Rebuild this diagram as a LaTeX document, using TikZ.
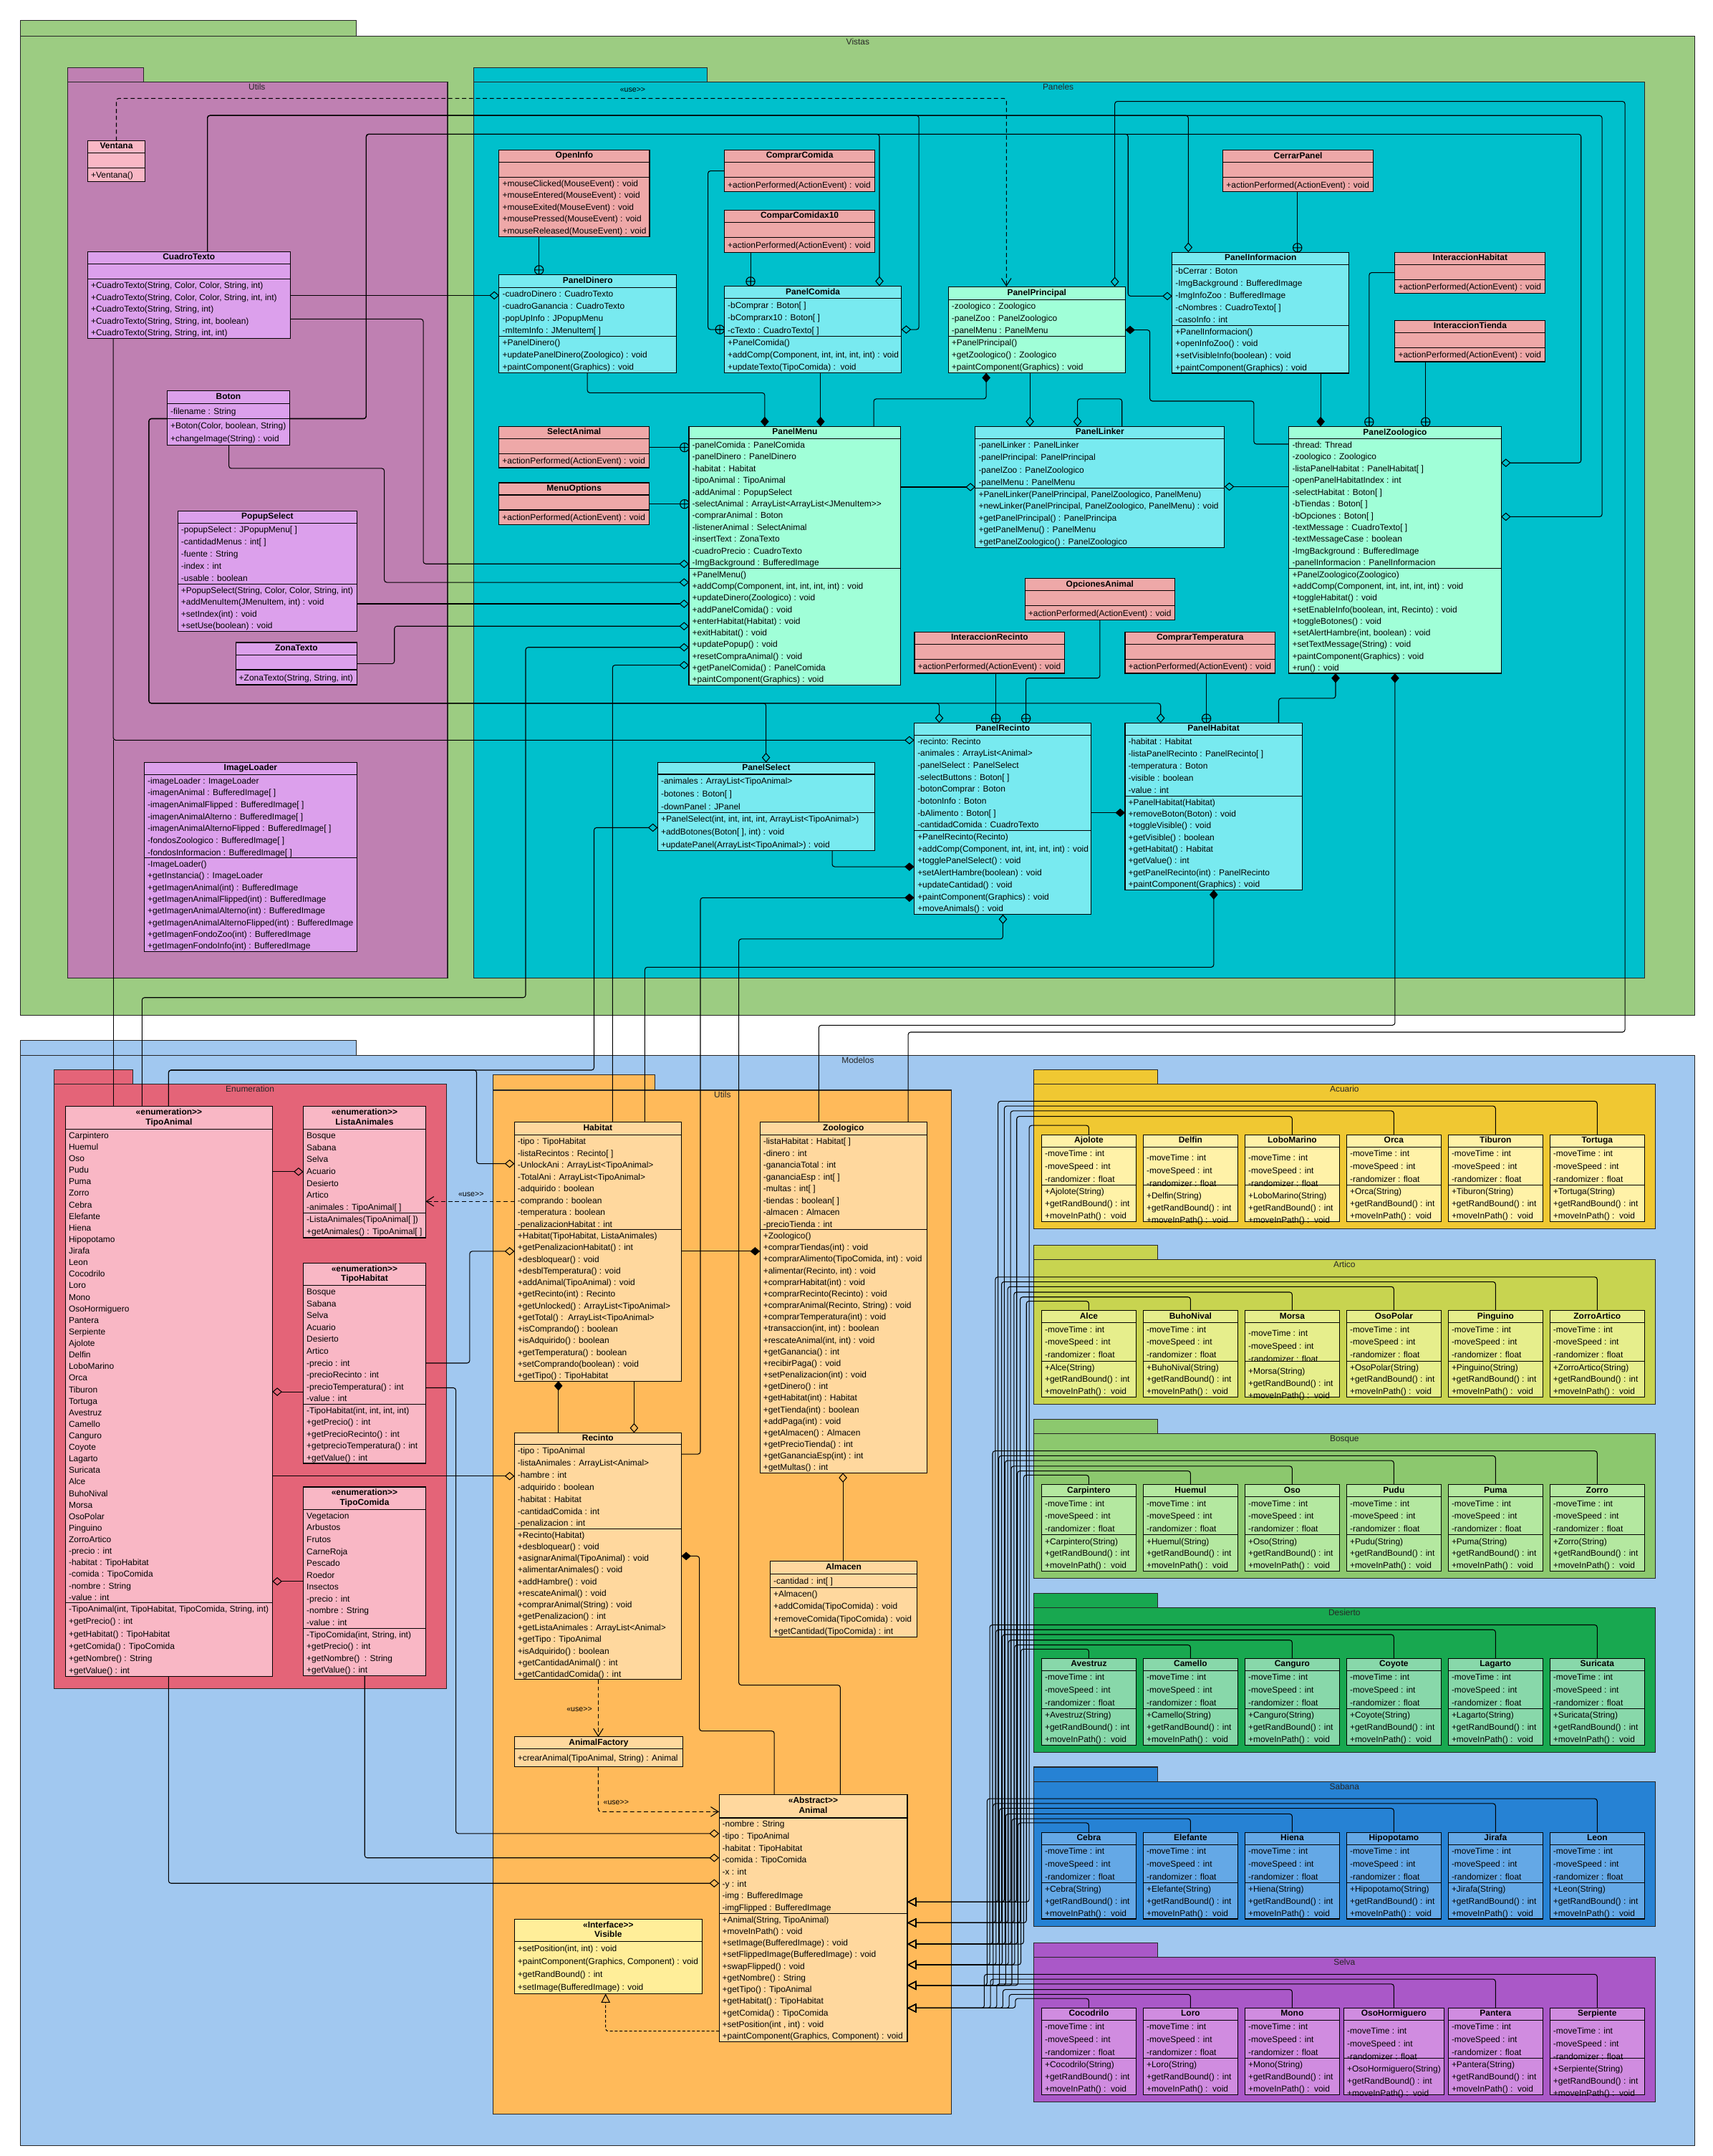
\documentclass[tikz,border=0pt]{standalone}
\usepackage{fontspec}
\setmainfont{Liberation Sans}
\usetikzlibrary{arrows.meta}
\pgfdeclarelayer{pk}\pgfdeclarelayer{ln}\pgfsetlayers{pk,ln,main}
\definecolor{cVistas}{RGB}{156,204,130}
\definecolor{cUtilsV}{RGB}{191,128,178}
\definecolor{cLilac}{RGB}{220,160,236}
\definecolor{cPink}{RGB}{249,183,197}
\definecolor{cPaneles}{RGB}{0,192,204}
\definecolor{cSalmon}{RGB}{238,168,168}
\definecolor{cCyanL}{RGB}{120,234,240}
\definecolor{cMint}{RGB}{160,255,216}
\definecolor{cModelos}{RGB}{161,200,240}
\definecolor{cEnum}{RGB}{228,100,120}
\definecolor{cOrange}{RGB}{255,186,90}
\definecolor{cPeach}{RGB}{255,216,158}
\definecolor{cYel}{RGB}{255,238,153}
\definecolor{pAcu}{RGB}{240,200,50}\definecolor{bAcu}{RGB}{255,242,168}
\definecolor{pArt}{RGB}{200,212,80}\definecolor{bArt}{RGB}{230,238,140}
\definecolor{pBos}{RGB}{140,200,110}\definecolor{bBos}{RGB}{180,232,160}
\definecolor{pDes}{RGB}{24,168,80}\definecolor{bDes}{RGB}{136,216,170}
\definecolor{pSab}{RGB}{38,130,212}\definecolor{bSab}{RGB}{100,168,230}
\definecolor{pSel}{RGB}{170,88,200}\definecolor{bSel}{RGB}{208,140,224}
\tikzset{
  cls/.style={draw=black,line width=0.55pt,anchor=north west,inner sep=0pt,outer sep=0pt},
  divl/.style={draw=black,line width=0.55pt},
  hdr/.style={font=\bfseries\fontsize{6.2pt}{7pt}\selectfont,inner sep=0pt,text height=4.5pt,text depth=1.3pt,anchor=center},
  txt/.style={anchor=north west,inner sep=0pt,align=left},
  pkg/.style={draw=black!85,line width=0.55pt},
  lbl/.style={font=\fontsize{6.2pt}{7pt}\selectfont,inner sep=0pt,anchor=north,text=black!85},
  con/.style={draw=black,line width=0.55pt,rounded corners=1.8pt},
  agg/.style={-{Diamond[open,length=7pt,width=6pt]}},
  comp/.style={-{Diamond[length=7pt,width=6pt]}},
  dep/.style={dash pattern=on 3pt off 2pt,-{Straight Barb[length=5.5pt,width=7pt]}},
  gen/.style={-{Triangle[open,length=6.5pt,width=6.5pt]}},
  real/.style={dash pattern=on 2pt off 1.5pt,-{Triangle[open,length=6.5pt,width=6.5pt]}},
  usel/.style={font=\fontsize{5.5pt}{6pt}\selectfont,inner sep=0pt},
}
\newcommand\UC[8]{%
  \node[cls,fill=#2,minimum width={#4pt-#3pt},minimum height={#8pt-#5pt}] (#1) at (#3,#5) {};
  \draw[divl] (#3,#6) -- (#4,#6);
  \if\relax\detokenize{#7}\relax\else\draw[divl] (#3,#7) -- (#4,#7);\fi
}
\newcommand\HD[5]{\node[hdr] at ({(#1+#2)/2},{(#3+#4)/2}) {#5};}
\newcommand\HDD[6]{%
  \node[hdr] at ({(#1+#2)/2},{#3+0.28*(#4-#3)}) {#5};
  \node[hdr] at ({(#1+#2)/2},{#3+0.70*(#4-#3)}) {#6};}
\newcommand\TX[5]{%
  \pgfmathsetmacro\rs{((#3)-(#2))/(#4)}%
  \pgfmathsetmacro\ty{(#2)+2.2-0.2*\rs}%
  \node[txt,font=\fontsize{6.2pt}{\rs pt}\selectfont] at ({#1+2.2},\ty) {\strut #5};%
}
\newcommand\PC[2]{\draw[line width=0.55pt] (#1,#2) circle (3.2pt) (#1-3.2,#2) -- (#1+3.2,#2) (#1,#2-3.2) -- (#1,#2+3.2);}
\newcommand\AL{+actionPerformed(ActionEvent) : void}
% boxes whose texts sit lower, and the wider box
\def\shDelfin{}\def\shLoboMarino{}\def\shMorsa{}\def\shOsoHormiguero{}\def\shSerpiente{}
\def\wdOsoHormiguero{}
\newcommand\ANI[8]{%
  \pgfmathsetmacro\Ttab{#1-10.4}%
  \pgfmathsetmacro\Tbot{#1+104.8}%
  \begin{pgfonlayer}{pk}
  \draw[pkg,fill=#2] (748.3,\Ttab) rectangle (838.2,#1);
  \draw[pkg,fill=#2] (748.3,#1) rectangle (1198.2,\Tbot);
  \end{pgfonlayer}
  \node[lbl] (l#4) at (973.2,#1+1) {#4};
  \foreach \nm [count=\k from 0] in {#5} {
    \pgfmathsetmacro\xl{754+73.6*\k}
    \def\bw{68.4}
    \ifcsname wd\nm\endcsname \pgfmathsetmacro\xl{\xl-2}\def\bw{72.4}\fi
    \ifcsname sh\nm\endcsname \def\sh{3}\else\def\sh{0}\fi
    \node[cls,fill=#3,minimum width=\bw pt,minimum height=62.7pt] (c\nm) at (\xl,#1+36.8) {};
    \draw[divl] (\xl,#1+45.6) -- ++(\bw,0) (\xl,#1+73.3) -- ++(\bw,0);
    \node[hdr] at ({\xl+\bw/2},{#1+41.2}) {\nm};
    \TX{\xl}{#1+45.6+\sh}{#1+73.3+\sh}{3}{-moveTime : int\\-moveSpeed : int\\-randomizer : float}
    \TX{\xl}{#1+73.3+\sh}{#1+99.5+\sh}{3}{+\nm(String)\\+getRandBound() : int\\+moveInPath() :\ \ void}
  }
  \begin{pgfonlayer}{ln}
  \foreach \k in {#8} {
    \pgfmathsetmacro\xc{754+73.6*\k+34.2}
    \pgfmathsetmacro\yl{#1+{30,27,23.5,19.5,16,12.5}[\k]}
    \pgfmathsetmacro\xv{745-4.5*\k-2*#7}
    \draw[con,gen] (\xc,#1+36.8) |- (\xv,\yl) |- (Animal.east |- 0,#6);
  }
  \end{pgfonlayer}
}
\begin{document}
\begin{tikzpicture}[x=1pt,y=-1pt]
\useasboundingbox (0,0) rectangle (1240,1560.4);
\begin{pgfonlayer}{pk}
\fill[white] (0,0) rectangle (1240,1560.4);
\draw[pkg,fill=cVistas] (15,15) rectangle (258,26);
\draw[pkg,fill=cVistas] (15,26) rectangle (1227,735);
\draw[pkg,fill=cUtilsV] (49,49) rectangle (104,59.2);
\draw[pkg,fill=cUtilsV] (49,59.2) rectangle (324,708);
\draw[pkg,fill=cPaneles] (343,48.9) rectangle (512,59.3);
\draw[pkg,fill=cPaneles] (343,59.3) rectangle (1190.5,708);
\draw[pkg,fill=cModelos] (15,753) rectangle (258,764);
\draw[pkg,fill=cModelos] (15,764) rectangle (1227,1553);
\draw[pkg,fill=cEnum] (39,774) rectangle (96,784.7);
\draw[pkg,fill=cEnum] (39,784.7) rectangle (323,1222);
\draw[pkg,fill=cOrange] (357,778) rectangle (474,789);
\draw[pkg,fill=cOrange] (357,789) rectangle (688.8,1530);
\end{pgfonlayer}
\node[lbl] (lVistas) at (621,27.5) {Vistas};
\node[lbl] (lUtilsV) at (186,60.2) {Utils};
\node[lbl] (lPaneles) at (766,60.3) {Paneles};
\node[lbl] (lModelos) at (621,765) {Modelos};
\node[lbl] (lEnum) at (181,785.7) {Enumeration};
\node[lbl] (lUtilsM) at (523,790) {Utils};
% ---------- Vistas / Utils
\UC{Ventana}{cPink}{63.5}{105}{101.8}{110.5}{121.7}{131.4}
\HD{63.5}{105}{101.8}{110.5}{Ventana}
\TX{63.5}{121.7}{131.4}{1}{+Ventana()}
\UC{CuadroTexto}{cLilac}{63.5}{210}{182}{191}{202}{245}
\HD{63.5}{210}{182}{191}{CuadroTexto}
\TX{63.5}{202}{245}{5}{+CuadroTexto(String, Color, Color, String, int)\\+CuadroTexto(String, Color, Color, String, int, int)\\+CuadroTexto(String, String, int)\\+CuadroTexto(String, String, int, boolean)\\+CuadroTexto(String, String, int, int)}
\UC{Boton}{cLilac}{121}{209.7}{283}{292}{303}{322}
\HD{121}{209.7}{283}{292}{Boton}
\TX{121}{292}{303}{1}{-filename : String}
\TX{121}{303}{322}{2}{+Boton(Color, boolean, String)\\+changeImage(String) : void}
\UC{PopupSelect}{cLilac}{128.7}{258.5}{369.8}{378.5}{422.6}{457}
\HD{128.7}{258.5}{369.8}{378.5}{PopupSelect}
\TX{128.7}{378.5}{422.6}{5}{-popupSelect : JPopupMenu[ ]\\-cantidadMenus : int[ ]\\-fuente : String\\-index : int\\-usable : boolean}
\TX{128.7}{422.6}{457}{4}{+PopupSelect(String, Color, Color, String, int)\\+addMenuItem(JMenuItem, int) : void\\+setIndex(int) : void\\+setUse(boolean) : void}
\UC{ZonaTexto}{cLilac}{170.6}{258.5}{465}{474}{484.7}{495.6}
\HD{170.6}{258.5}{465}{474}{ZonaTexto}
\TX{170.6}{484.7}{495.6}{1}{+ZonaTexto(String, String, int)}
\UC{ImageLoader}{cLilac}{104.5}{258.3}{551.7}{560.5}{621}{688.5}
\HD{104.5}{258.3}{551.7}{560.5}{ImageLoader}
\TX{104.5}{560.5}{621}{7}{-imageLoader : ImageLoader\\-imagenAnimal : BufferedImage[ ]\\-imagenAnimalFlipped : BufferedImage[ ]\\-imagenAnimalAlterno : BufferedImage[ ]\\-imagenAnimalAlternoFlipped : BufferedImage[ ]\\-fondosZoologico : BufferedImage[ ]\\-fondosInformacion : BufferedImage[ ]}
\TX{104.5}{621}{688.5}{8}{-ImageLoader()\\+getInstancia() : ImageLoader\\+getImagenAnimal(int) : BufferedImage\\+getImagenAnimalFlipped(int) : BufferedImage\\+getImagenAnimalAlterno(int) : BufferedImage\\+getImagenAnimalAlternoFlipped(int) : BufferedImage\\+getImagenFondoZoo(int) : BufferedImage\\+getImagenFondoInfo(int) : BufferedImage}
% ---------- Paneles
\UC{OpenInfo}{cSalmon}{361.3}{470.2}{108.5}{117.3}{128.2}{171.2}
\HD{361.3}{470.2}{108.5}{117.3}{OpenInfo}
\TX{361.3}{128.2}{171.2}{5}{+mouseClicked(MouseEvent) : void\\+mouseEntered(MouseEvent) : void\\+mouseExited(MouseEvent) : void\\+mousePressed(MouseEvent) : void\\+mouseReleased(MouseEvent) : void}
\UC{ComprarComida}{cSalmon}{524.4}{633.3}{108.5}{117.3}{128.2}{138.8}
\HD{524.4}{633.3}{108.5}{117.3}{ComprarComida}
\TX{524.4}{128.2}{138.8}{1}{\AL}
\UC{ComparComidax10}{cSalmon}{524.4}{633.3}{152}{160.9}{171.8}{182.5}
\HD{524.4}{633.3}{152}{160.9}{ComparComidax10}
\TX{524.4}{171.8}{182.5}{1}{\AL}
\UC{PanelDinero}{cCyanL}{361.3}{489.7}{198.7}{207.9}{243.3}{269.9}
\HD{361.3}{489.7}{198.7}{207.9}{PanelDinero}
\TX{361.3}{207.9}{243.3}{4}{-cuadroDinero : CuadroTexto\\-cuadroGanancia : CuadroTexto\\-popUpInfo : JPopupMenu\\-mItemInfo : JMenuItem[ ]}
\TX{361.3}{243.3}{269.9}{3}{+PanelDinero()\\+updatePanelDinero(Zoologico) : void\\+paintComponent(Graphics) : void}
\UC{PanelComida}{cCyanL}{524.4}{652.5}{207}{216}{243.3}{269.9}
\HD{524.4}{652.5}{207}{216}{PanelComida}
\TX{524.4}{216}{243.3}{3}{-bComprar : Boton[ ]\\-bComprarx10 : Boton[ ]\\-cTexto : CuadroTexto[ ]}
\TX{524.4}{243.3}{269.9}{3}{+PanelComida()\\+addComp(Component, int, int, int, int) : void\\+updateTexto(TipoComida) :\ \ void}
\UC{PanelPrincipal}{cMint}{686.5}{814.6}{207.4}{216.9}{243.3}{269.9}
\HD{686.5}{814.6}{207.4}{216.9}{PanelPrincipal}
\TX{686.5}{216.9}{243.3}{3}{-zoologico : Zoologico\\-panelZoo : PanelZoologico\\-panelMenu : PanelMenu}
\TX{686.5}{243.3}{269.9}{3}{+PanelPrincipal()\\+getZoologico() : Zoologico\\+paintComponent(Graphics) : void}
\UC{CerrarPanel}{cSalmon}{885.3}{994}{108.5}{117.5}{128.4}{138.8}
\HD{885.3}{994}{108.5}{117.5}{CerrarPanel}
\TX{885.3}{128.4}{138.8}{1}{\AL}
\UC{PanelInformacion}{cCyanL}{848.5}{976.6}{182.5}{191.5}{235.5}{270.1}
\HD{848.5}{976.6}{182.5}{191.5}{PanelInformacion}
\TX{848.5}{191.5}{235.5}{5}{-bCerrar : Boton\\-ImgBackground : BufferedImage\\-ImgInfoZoo : BufferedImage\\-cNombres : CuadroTexto[ ]\\-casoInfo : int}
\TX{848.5}{235.5}{270.1}{4}{+PanelInformacion()\\+openInfoZoo() : void\\+setVisibleInfo(boolean) : void\\+paintComponent(Graphics) : void}
\UC{InteraccionHabitat}{cSalmon}{1009.8}{1118.6}{182.5}{191.5}{202.3}{212.5}
\HD{1009.8}{1118.6}{182.5}{191.5}{InteraccionHabitat}
\TX{1009.8}{202.3}{212.5}{1}{\AL}
\UC{InteraccionTienda}{cSalmon}{1009.8}{1118.6}{231.9}{240.7}{251.6}{261.8}
\HD{1009.8}{1118.6}{231.9}{240.7}{InteraccionTienda}
\TX{1009.8}{251.6}{261.8}{1}{\AL}
\UC{SelectAnimal}{cSalmon}{361.2}{470}{308.6}{317.4}{328.3}{338.5}
\HD{361.2}{470}{308.6}{317.4}{SelectAnimal}
\TX{361.2}{328.3}{338.5}{1}{\AL}
\UC{MenuOptions}{cSalmon}{361.2}{470}{349.4}{358.2}{369.1}{379.5}
\HD{361.2}{470}{349.4}{358.2}{MenuOptions}
\TX{361.2}{369.1}{379.5}{1}{\AL}
\UC{PanelMenu}{cMint}{498.7}{652.1}{308.6}{317.4}{411.3}{495.8}
\HD{498.7}{652.1}{308.6}{317.4}{PanelMenu}
\TX{498.7}{317.4}{411.3}{11}{-panelComida : PanelComida\\-panelDinero : PanelDinero\\-habitat : Habitat\\-tipoAnimal : TipoAnimal\\-addAnimal : PopupSelect\\-selectAnimal : ArrayList<ArrayList<JMenuItem>{}>\\-comprarAnimal : Boton\\-listenerAnimal : SelectAnimal\\-insertText : ZonaTexto\\-cuadroPrecio : CuadroTexto\\-ImgBackground : BufferedImage}
\TX{498.7}{411.3}{495.8}{10}{+PanelMenu()\\+addComp(Component, int, int, int, int) : void\\+updateDinero(Zoologico) : void\\+addPanelComida() : void\\+enterHabitat(Habitat) : void\\+exitHabitat() : void\\+updatePopup() : void\\+resetCompraAnimal() : void\\+getPanelComida() : PanelComida\\+paintComponent(Graphics) : void}
\UC{PanelLinker}{cCyanL}{706}{886.4}{308.6}{317.4}{353.2}{396.1}
\HD{706}{886.4}{308.6}{317.4}{PanelLinker}
\TX{706}{317.4}{353.2}{4}{-panelLinker : PanelLinker\\-panelPrincipal: PanelPrincipal\\-panelZoo : PanelZoologico\\-panelMenu : PanelMenu}
\TX{706}{353.2}{396.1}{5}{+PanelLinker(PanelPrincipal, PanelZoologico, PanelMenu)\\+newLinker(PanelPrincipal, PanelZoologico, PanelMenu) : void\\+getPanelPrincipal() : PanelPrincipa\\+getPanelMenu() : PanelMenu\\+getPanelZoologico() : PanelZoologico}
\UC{PanelZoologico}{cMint}{933.1}{1086.6}{308.6}{317.6}{411.3}{487.3}
\HD{933.1}{1086.6}{308.6}{317.6}{PanelZoologico}
\TX{933.1}{317.6}{411.3}{11}{-thread: Thread\\-zoologico : Zoologico\\-listaPanelHabitat : PanelHabitat[ ]\\-openPanelHabitatIndex : int\\-selectHabitat : Boton[ ]\\-bTiendas : Boton[ ]\\-bOpciones : Boton[ ]\\-textMessage : CuadroTexto[ ]\\-textMessageCase : boolean\\-ImgBackground : BufferedImage\\-panelInformacion : PanelInformacion}
\TX{933.1}{411.3}{487.3}{9}{+PanelZoologico(Zoologico)\\+addComp(Component, int, int, int, int) : void\\+toggleHabitat() : void\\+setEnableInfo(boolean, int, Recinto) : void\\+toggleBotones() : void\\+setAlertHambre(int, boolean) : void\\+setTextMessage(String) : void\\+paintComponent(Graphics) : void\\+run() : void}
\UC{OpcionesAnimal}{cSalmon}{742}{850.4}{418.7}{427.5}{438.4}{448.6}
\HD{742}{850.4}{418.7}{427.5}{OpcionesAnimal}
\TX{742}{438.4}{448.6}{1}{\AL}
\UC{InteraccionRecinto}{cSalmon}{662}{770.7}{457.4}{466.2}{477.1}{487.3}
\HD{662}{770.7}{457.4}{466.2}{InteraccionRecinto}
\TX{662}{477.1}{487.3}{1}{\AL}
\UC{ComprarTemperatura}{cSalmon}{814.4}{923}{457.4}{466.2}{477.1}{487.3}
\HD{814.4}{923}{457.4}{466.2}{ComprarTemperatura}
\TX{814.4}{477.1}{487.3}{1}{\AL}
\UC{PanelSelect}{cCyanL}{476.1}{633.2}{551.8}{560.4}{588}{615.5}
\HD{476.1}{633.2}{551.8}{560.4}{PanelSelect}
\TX{476.1}{560.4}{588}{3}{-animales : ArrayList<TipoAnimal>\\-botones : Boton[ ]\\-downPanel : JPanel}
\TX{476.1}{588}{615.5}{3}{+PanelSelect(int, int, int, int, ArrayList<TipoAnimal>)\\+addBotones(Boton[ ], int) : void\\+updatePanel(ArrayList<TipoAnimal>) : void}
\UC{PanelRecinto}{cCyanL}{661.8}{790}{523.2}{532.1}{601}{661.8}
\HD{661.8}{790}{523.2}{532.1}{PanelRecinto}
\TX{661.8}{532.1}{601}{8}{-recinto: Recinto\\-animales : ArrayList<Animal>\\-panelSelect : PanelSelect\\-selectButtons : Boton[ ]\\-botonComprar : Boton\\-botonInfo : Boton\\-bAlimento : Boton[ ]\\-cantidadComida : CuadroTexto}
\TX{661.8}{601}{661.8}{7}{+PanelRecinto(Recinto)\\+addComp(Component, int, int, int, int) : void\\+togglePanelSelect() : void\\+setAlertHambre(boolean) : void\\+updateCantidad() : void\\+paintComponent(Graphics) : void\\+moveAnimals() : void}
\UC{PanelHabitat}{cCyanL}{814.4}{942.5}{523.2}{532.1}{576.1}{644}
\HD{814.4}{942.5}{523.2}{532.1}{PanelHabitat}
\TX{814.4}{532.1}{576.1}{5}{-habitat : Habitat\\-listaPanelRecinto : PanelRecinto[ ]\\-temperatura : Boton\\-visible : boolean\\-value : int}
\TX{814.4}{576.1}{644}{8}{+PanelHabitat(Habitat)\\+removeBoton(Boton) : void\\+toggleVisible() : void\\+getVisible() : boolean\\+getHabitat() : Habitat\\+getValue() : int\\+getPanelRecinto(int) : PanelRecinto\\+paintComponent(Graphics) : void}
% ---------- Enumeration
\UC{TipoAnimal}{cPink}{47.4}{197.2}{800.7}{817.3}{1160}{1213.2}
\HDD{47.4}{197.2}{800.7}{817.3}{<<enumeration>{}>}{TipoAnimal}
\TX{47.4}{817.3}{1160}{41}{Carpintero\\Huemul\\Oso\\Pudu\\Puma\\Zorro\\Cebra\\Elefante\\Hiena\\Hipopotamo\\Jirafa\\Leon\\Cocodrilo\\Loro\\Mono\\OsoHormiguero\\Pantera\\Serpiente\\Ajolote\\Delfin\\LoboMarino\\Orca\\Tiburon\\Tortuga\\Avestruz\\Camello\\Canguro\\Coyote\\Lagarto\\Suricata\\Alce\\BuhoNival\\Morsa\\OsoPolar\\Pinguino\\ZorroArtico\\-precio : int\\-habitat : TipoHabitat\\-comida : TipoComida\\-nombre : String\\-value : int}
\TX{47.4}{1160}{1213.2}{6}{-TipoAnimal(int, TipoHabitat, TipoComida, String, int)\\+getPrecio() : int\\+getHabitat() : TipoHabitat\\+getComida() : TipoComida\\+getNombre() : String\\+getValue() : int}
\UC{ListaAnimales}{cPink}{219.6}{308.1}{800.7}{817.3}{877.8}{895.8}
\HDD{219.6}{308.1}{800.7}{817.3}{<<enumeration>{}>}{ListaAnimales}
\TX{219.6}{817.3}{877.8}{7}{Bosque\\Sabana\\Selva\\Acuario\\Desierto\\Artico\\-animales : TipoAnimal[ ]}
\TX{219.6}{877.8}{895.8}{2}{-ListaAnimales(TipoAnimal[ ])\\+getAnimales() : TipoAnimal[ ]}
\UC{TipoHabitat}{cPink}{219.6}{308.1}{914.2}{930.4}{1016.3}{1059.1}
\HDD{219.6}{308.1}{914.2}{930.4}{<<enumeration>{}>}{TipoHabitat}
\TX{219.6}{930.4}{1016.3}{10}{Bosque\\Sabana\\Selva\\Acuario\\Desierto\\Artico\\-precio : int\\-precioRecinto : int\\-precioTemperatura() : int\\-value : int}
\TX{219.6}{1016.3}{1059.1}{5}{-TipoHabitat(int, int, int, int)\\+getPrecio() : int\\+getPrecioRecinto() : int\\+getprecioTemperatura() : int\\+getValue() : int}
\UC{TipoComida}{cPink}{219.6}{308.1}{1076.2}{1092.5}{1178.4}{1212.6}
\HDD{219.6}{308.1}{1076.2}{1092.5}{<<enumeration>{}>}{TipoComida}
\TX{219.6}{1092.5}{1178.4}{10}{Vegetacion\\Arbustos\\Frutos\\CarneRoja\\Pescado\\Roedor\\Insectos\\-precio : int\\-nombre : String\\-value : int}
\TX{219.6}{1178.4}{1212.6}{4}{-TipoComida(int, String, int)\\+getPrecio() : int\\+getNombre()\ \ : String\\+getValue() : int}
% ---------- Modelos / Utils
\UC{Habitat}{cPeach}{372.4}{493.2}{812.2}{821.5}{890}{999.5}
\HD{372.4}{493.2}{812.2}{821.5}{Habitat}
\TX{372.4}{821.5}{890}{8}{-tipo : TipoHabitat\\-listaRecintos : Recinto[ ]\\-UnlockAni : ArrayList<TipoAnimal>\\-TotalAni : ArrayList<TipoAnimal>\\-adquirido : boolean\\-comprando : boolean\\-temperatura : boolean\\-penalizacionHabitat : int}
\TX{372.4}{890}{999.5}{13}{+Habitat(TipoHabitat, ListaAnimales)\\+getPenalizacionHabitat() : int\\+desbloquear() : void\\+desblTemperatura() : void\\+addAnimal(TipoAnimal) : void\\+getRecinto(int) : Recinto\\+getUnlocked() : ArrayList<TipoAnimal>\\+getTotal() :\ \ ArrayList<TipoAnimal>\\+isComprando() : boolean\\+isAdquirido() : boolean\\+getTemperatura() : boolean\\+setComprando(boolean) : void\\+getTipo() : TipoHabitat}
\UC{Recinto}{cPeach}{372.4}{493.2}{1037}{1045.5}{1106.6}{1215.6}
\HD{372.4}{493.2}{1037}{1045.5}{Recinto}
\TX{372.4}{1045.5}{1106.6}{7}{-tipo : TipoAnimal\\-listaAnimales : ArrayList<Animal>\\-hambre : int\\-adquirido : boolean\\-habitat : Habitat\\-cantidadComida : int\\-penalizacion : int}
\TX{372.4}{1106.6}{1215.6}{13}{+Recinto(Habitat)\\+desbloquear() : void\\+asignarAnimal(TipoAnimal) : void\\+alimentarAnimales() : void\\+addHambre() : void\\+rescateAnimal() : void\\+comprarAnimal(String) : void\\+getPenalizacion() : int\\+getListaAnimales : ArrayList<Animal>\\+getTipo : TipoAnimal\\+isAdquirido() : boolean\\+getCantidadAnimal() : int\\+getCantidadComida() : int}
\UC{Zoologico}{cPeach}{550.1}{671}{812.2}{821.5}{890}{1066}
\HD{550.1}{671}{812.2}{821.5}{Zoologico}
\TX{550.1}{821.5}{890}{8}{-listaHabitat : Habitat[ ]\\-dinero : int\\-gananciaTotal : int\\-gananciaEsp : int[ ]\\-multas : int[ ]\\-tiendas : boolean[ ]\\-almacen : Almacen\\-precioTienda : int}
\TX{550.1}{890}{1066}{21}{+Zoologico()\\+comprarTiendas(int) : void\\+comprarAlimento(TipoComida, int) : void\\+alimentar(Recinto, int) : void\\+comprarHabitat(int) : void\\+comprarRecinto(Recinto) : void\\+comprarAnimal(Recinto, String) : void\\+comprarTemperatura(int) : void\\+transaccion(int, int) : boolean\\+rescateAnimal(int, int) : void\\+getGanancia() : int\\+recibirPaga() : void\\+setPenalizacion(int) : void\\+getDinero() : int\\+getHabitat(int) : Habitat\\+getTienda(int) : boolean\\+addPaga(int) : void\\+getAlmacen() : Almacen\\+getPrecioTienda() : int\\+getGananciaEsp(int) : int\\+getMultas() : int}
\UC{Almacen}{cPeach}{557.5}{663.8}{1130}{1139}{1148.8}{1185}
\HD{557.5}{663.8}{1130}{1139}{Almacen}
\TX{557.5}{1139}{1148.8}{1}{-cantidad : int[ ]}
\TX{557.5}{1148.8}{1185}{4}{+Almacen()\\+addComida(TipoComida) : void\\+removeComida(TipoComida) : void\\+getCantidad(TipoComida) : int}
\UC{AnimalFactory}{cPeach}{372.4}{494.3}{1257}{1265.8}{}{1278.4}
\HD{372.4}{494.3}{1257}{1265.8}{AnimalFactory}
\TX{372.4}{1265.8}{1278.4}{1}{+crearAnimal(TipoAnimal, String) : Animal}
\UC{Animal}{cPeach}{520.5}{656.8}{1299}{1315.7}{1384.8}{1477.5}
\HDD{520.5}{656.8}{1299}{1315.7}{<<Abstract>{}>}{Animal}
\TX{520.5}{1315.7}{1384.8}{8}{-nombre : String\\-tipo : TipoAnimal\\-habitat : TipoHabitat\\-comida : TipoComida\\-x : int\\-y : int\\-img : BufferedImage\\-imgFlipped : BufferedImage}
\TX{520.5}{1384.8}{1477.5}{11}{+Animal(String, TipoAnimal)\\+moveInPath() : void\\+setImage(BufferedImage) : void\\+setFlippedImage(BufferedImage) : void\\+swapFlipped() : void\\+getNombre() : String\\+getTipo() : TipoAnimal\\+getHabitat() : TipoHabitat\\+getComida() : TipoComida\\+setPosition(int , int) : void\\+paintComponent(Graphics, Component) : void}
\UC{Visible}{cYel}{372.4}{508.2}{1389}{1405.2}{}{1442.9}
\HDD{372.4}{508.2}{1389}{1405.2}{<<Interface>{}>}{Visible}
\TX{372.4}{1405.2}{1442.9}{4}{+setPosition(int, int) : void\\+paintComponent(Graphics, Component) : void\\+getRandBound() : int\\+setImage(BufferedImage) : void}
% ---------- animal packages
\ANI{784.5}{pAcu}{bAcu}{Acuario}{Ajolote,Delfin,LoboMarino,Orca,Tiburon,Tortuga}{1376.5}{0}{0,2,3,4,5}
\ANI{911.7}{pArt}{bArt}{Artico}{Alce,BuhoNival,Morsa,OsoPolar,Pinguino,ZorroArtico}{1391.6}{1}{0,1,2,3,4,5}
\ANI{1037.6}{pBos}{bBos}{Bosque}{Carpintero,Huemul,Oso,Pudu,Puma,Zorro}{1407}{2}{0,1,2,3,4,5}
\ANI{1163.5}{pDes}{bDes}{Desierto}{Avestruz,Camello,Canguro,Coyote,Lagarto,Suricata}{1422}{3}{0,1,2,3,4,5}
\ANI{1289.3}{pSab}{bSab}{Sabana}{Cebra,Elefante,Hiena,Hipopotamo,Jirafa,Leon}{1436.9}{4}{0,1,2,3,4,5}
\ANI{1416.4}{pSel}{bSel}{Selva}{Cocodrilo,Loro,Mono,OsoHormiguero,Pantera,Serpiente}{1453.3}{5}{0,1,2,3,4,5}
% ---------- connectors
\begin{pgfonlayer}{ln}
\draw[con,dep] (Ventana.north) |- (728.5,71.2) -- (PanelPrincipal.north -| 728.5,0);
\draw[con,agg] (CuadroTexto.north -| 150.1,0) |- (665.2,83.6) |- (PanelComida.east |- 0,238.5);
\draw[con,agg] (CuadroTexto.north -| 150.1,0) |- (1159.7,83.6) |- (PanelZoologico.east |- 0,374);
\draw[con,agg] (CuadroTexto.north -| 150.1,0) |- (860.2,83.6) -- (PanelInformacion.north -| 860.2,0);
\draw[con,agg] (Boton.east |- 0,303) -| (265.1,97.1) -| (PanelComida.north -| 636.6,0);
\draw[con,agg] (Boton.east |- 0,303) -| (265.1,97.1) -| (816.6,214.3) -- (PanelInformacion.west |- 0,214.3);
\draw[con,agg] (Boton.east |- 0,303) -| (265.1,97.1) -| (1144.5,335) -- (PanelZoologico.east |- 0,335);
\draw[con,agg] (CuadroTexto.east |- 0,213.8) -- (PanelDinero.west |- 0,213.8);
\draw[con,agg] (CuadroTexto.east |- 0,230.9) -| (306.4,408.1) -- (PanelMenu.west |- 0,408.1);
\draw[con,agg] (CuadroTexto.south -| 82,0) |- (PanelRecinto.west |- 0,535.7);
\draw[con] (TipoAnimal.north -| 82,0) -- (82,535.7);
\draw[con,agg] (Boton.west |- 0,303) -| (107.8,509) -| (PanelRecinto.north -| 679.9,0);
\draw[con,agg] (Boton.west |- 0,303) -| (107.8,509) -| (PanelSelect.north -| 554.5,0);
\draw[con,agg] (Boton.west |- 0,303) -| (107.8,509) -| (PanelHabitat.north -| 840.2,0);
\draw[con,agg] (Boton.south -| 165.7,0) |- (278.2,339) |- (PanelMenu.west |- 0,421.5);
\draw[con,agg] (PopupSelect.east |- 0,437) -- (PanelMenu.west |- 0,437);
\draw[con,agg] (ZonaTexto.east |- 0,480.4) -| (285.5,453.2) -- (PanelMenu.west |- 0,453.2);
\draw[con] (OpenInfo.south -| 390.2,0) -- (PanelDinero.north -| 390.2,0); \PC{390.2}{195.4}
\draw[con] (ComprarComida.west |- 0,123.7) -| (512.5,238.5) -- (PanelComida.west |- 0,238.5); \PC{521.1}{238.5}
\draw[con] (ComparComidax10.south -| 543.3,0) -- (PanelComida.north -| 543.3,0); \PC{543.3}{203.7}
\draw[con,comp] (PanelDinero.south -| 425.2,0) |- (553.6,284.3) -- (PanelMenu.north -| 553.6,0);
\draw[con,comp] (PanelComida.south -| 594,0) -- (PanelMenu.north -| 594,0);
\draw[con,comp] (PanelMenu.north -| 632.5,0) |- (713.9,288.7) -- (PanelPrincipal.south -| 713.9,0);
\draw[con,agg] (PanelPrincipal.south -| 745.5,0) -- (PanelLinker.north -| 745.5,0);
\draw[con,agg] (PanelLinker.north -| 812.2,0) |- (780,288.7) -- (PanelLinker.north -| 780,0);
\draw[con,comp] (PanelZoologico.west |- 0,321.4) -| (907.7,290.3) -| (832.4,238.8) -- (PanelPrincipal.east |- 0,238.8);
\draw[con,agg] (PanelMenu.east |- 0,352.5) -- (PanelLinker.west |- 0,352.5);
\draw[con,agg] (PanelZoologico.west |- 0,352.2) -- (PanelLinker.east |- 0,352.2);
\draw[con] (CerrarPanel.south -| 939.2,0) -- (PanelInformacion.north -| 939.2,0); \PC{939.2}{179.3}
\draw[con,comp] (PanelInformacion.south -| 956,0) -- (PanelZoologico.north -| 956,0);
\draw[con] (InteraccionHabitat.west |- 0,197.3) -| (PanelZoologico.north -| 991.1,0); \PC{991.1}{305.4}
\draw[con] (InteraccionTienda.south -| 1032,0) -- (PanelZoologico.north -| 1032,0); \PC{1032}{305.4}
\draw[con] (SelectAnimal.east |- 0,323.8) -- (PanelMenu.west |- 0,323.8); \PC{495.5}{323.8}
\draw[con] (MenuOptions.east |- 0,364.8) -- (PanelMenu.west |- 0,364.8); \PC{495.5}{364.8}
\draw[con,comp] (PanelRecinto.east |- 0,588.2) -- (PanelHabitat.west |- 0,588.2);
\draw[con,comp] (PanelSelect.south -| 602.4,0) |- (PanelRecinto.west |- 0,627.3);
\draw[con] (InteraccionRecinto.south -| 720.9,0) -- (PanelRecinto.north -| 720.9,0); \PC{720.9}{520}
\draw[con] (OpcionesAnimal.south -| 796.2,0) |- (742.7,490.8) -- (PanelRecinto.north -| 742.7,0); \PC{742.7}{520}
\draw[con] (ComprarTemperatura.south -| 873.3,0) -- (PanelHabitat.north -| 873.3,0); \PC{873.3}{520}
\draw[con,comp] (PanelHabitat.north -| 925.6,0) |- (966.8,505.4) -- (PanelZoologico.south -| 966.8,0);
\draw[con,comp] (Zoologico.north -| 592.7,0) |- (1009.8,742) -- (PanelZoologico.south -| 1009.8,0);
\draw[con,agg] (Zoologico.north -| 657.4,0) |- (1176.3,747) |- (807,73.4) -- (PanelPrincipal.north -| 807,0);
\draw[con,comp] (Habitat.north -| 466.8,0) |- (878.6,700) -- (PanelHabitat.south -| 878.6,0);
\draw[con,agg] (Habitat.north -| 443.4,0) |- (PanelMenu.west |- 0,481.4);
\draw[con,agg] (TipoAnimal.north -| 102.8,0) |- (380.5,722) |- (PanelMenu.west |- 0,468.5);
\draw[con,agg] (TipoAnimal.north -| 122,0) |- (430,774.5) |- (PanelSelect.west |- 0,599);
\draw[con,agg] (TipoAnimal.north -| 122,0) |- (345,774.5) |- (Habitat.west |- 0,842.2);
\draw[con,dep] (Habitat.west |- 0,869.5) -- (ListaAnimales.east |- 0,869.5);
\draw[con,agg] (TipoAnimal.east |- 0,848) -- (ListaAnimales.west |- 0,848);
\draw[con,agg] (TipoHabitat.west |- 0,1007.3) -- (TipoAnimal.east |- 0,1007.3);
\draw[con,agg] (TipoComida.west |- 0,1144.5) -- (TipoAnimal.east |- 0,1144.5);
\draw[con,agg] (TipoAnimal.east |- 0,1068.3) -- (Recinto.west |- 0,1068.3);
\draw[con,agg] (TipoHabitat.east |- 0,986.5) -| (340,905.6) -- (Habitat.west |- 0,905.6);
\draw[con,agg] (TipoHabitat.east |- 0,1004.4) -| (330,1327) -- (Animal.west |- 0,1327);
\draw[con,agg] (TipoComida.south -| 264,0) |- (Animal.west |- 0,1344.6);
\draw[con,agg] (TipoAnimal.south -| 122,0) |- (Animal.west |- 0,1363);
\draw[con,comp] (Habitat.east |- 0,905.6) -- (Zoologico.west |- 0,905.6);
\draw[con,comp] (Recinto.north -| 404.2,0) -- (Habitat.south -| 404.2,0);
\draw[con,agg] (Habitat.south -| 459,0) -- (Recinto.north -| 459,0);
\draw[con,agg] (Almacen.north -| 610.2,0) -- (Zoologico.south -| 610.2,0);
\draw[con,comp] (Recinto.east |- 0,1052.4) -| (507,649.7) -- (PanelRecinto.west |- 0,649.7);
\draw[con,comp] (Animal.north -| 560.5,0) |- (506.3,1252.8) |- (Recinto.east |- 0,1126.2);
\draw[con,agg] (Animal.north -| 608.3,0) |- (534.8,1219.6) |- (726,679.6) -- (PanelRecinto.south -| 726,0);
\draw[con,dep] (Recinto.south -| 433.1,0) -- (AnimalFactory.north -| 433.1,0);
\draw[con,dep] (AnimalFactory.south -| 433.1,0) |- (Animal.west |- 0,1311.2);
\draw[con,real] (Animal.west |- 0,1470) -| (Visible.south -| 438.4,0);
\end{pgfonlayer}
\node[usel] (u1) at (458,65) {<<use>{}>};
\node[usel] (u2) at (341,864.5) {<<use>{}>};
\node[usel] (u3) at (419.4,1237) {<<use>{}>};
\node[usel] (u4) at (446,1304.3) {<<use>{}>};
\end{tikzpicture}
\end{document}
